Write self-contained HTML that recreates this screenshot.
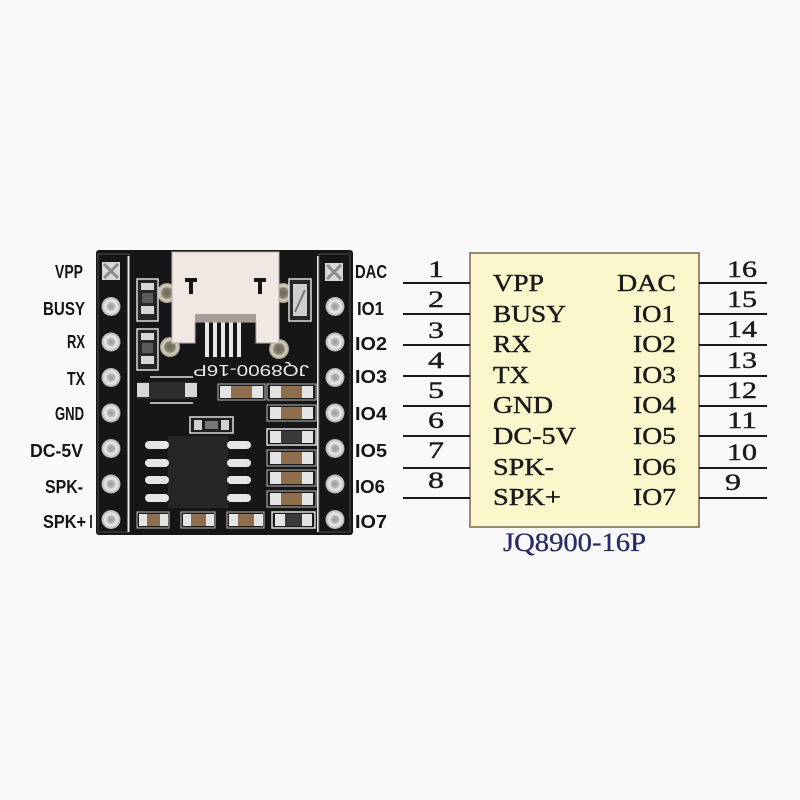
<!DOCTYPE html>
<html><head><meta charset="utf-8"><style>
html,body{margin:0;padding:0;background:#f9f9f9;}
svg{display:block}
</style></head><body>
<svg width="800" height="800" viewBox="0 0 800 800" xmlns="http://www.w3.org/2000/svg">
<defs>
<radialGradient id="pin" cx="50%" cy="50%" r="50%">
<stop offset="0%" stop-color="#9a9a9a"/>
<stop offset="35%" stop-color="#b4b4b4"/>
<stop offset="60%" stop-color="#ececec"/>
<stop offset="100%" stop-color="#b0b0b0"/>
</radialGradient>
<radialGradient id="mpad" cx="50%" cy="50%" r="50%">
<stop offset="0%" stop-color="#6a6458"/>
<stop offset="50%" stop-color="#8a8270"/>
<stop offset="70%" stop-color="#d8d0c2"/>
<stop offset="100%" stop-color="#a8a090"/>
</radialGradient>
</defs>
<rect width="800" height="800" fill="#f9f9f9"/>

<!-- ============ PCB ============ -->
<rect x="96" y="250" width="257" height="285" rx="3" fill="#161616"/>
<rect x="98" y="254" width="31" height="278" fill="none" stroke="#4a4a4a" stroke-width="1"/>
<line x1="128.5" y1="256" x2="128.5" y2="532" stroke="#e6e6e6" stroke-width="2"/>
<line x1="318" y1="256" x2="318" y2="532" stroke="#e6e6e6" stroke-width="2"/>
<rect x="319" y="254" width="31" height="278" fill="none" stroke="#4a4a4a" stroke-width="1"/>

<!-- left pins -->
<rect x="102" y="262" width="18" height="18" fill="#d8d8d8"/>
<path d="M104 264 L118 278 M118 264 L104 278" stroke="#8a8a8a" stroke-width="3"/>
<circle cx="111" cy="306.5" r="9.5" fill="url(#pin)"/>
<circle cx="111" cy="342" r="9.5" fill="url(#pin)"/>
<circle cx="111" cy="377.5" r="9.5" fill="url(#pin)"/>
<circle cx="111" cy="413" r="9.5" fill="url(#pin)"/>
<circle cx="111" cy="448.5" r="9.5" fill="url(#pin)"/>
<circle cx="111" cy="484" r="9.5" fill="url(#pin)"/>
<circle cx="111" cy="519.5" r="9.5" fill="url(#pin)"/>
<!-- right pins -->
<rect x="325" y="263" width="18" height="18" fill="#d8d8d8"/>
<path d="M327 265 L341 279 M341 265 L327 279" stroke="#8a8a8a" stroke-width="3"/>
<circle cx="335" cy="306.5" r="9.5" fill="url(#pin)"/>
<circle cx="335" cy="342" r="9.5" fill="url(#pin)"/>
<circle cx="335" cy="377.5" r="9.5" fill="url(#pin)"/>
<circle cx="335" cy="413" r="9.5" fill="url(#pin)"/>
<circle cx="335" cy="448.5" r="9.5" fill="url(#pin)"/>
<circle cx="335" cy="484" r="9.5" fill="url(#pin)"/>
<circle cx="335" cy="519.5" r="9.5" fill="url(#pin)"/>

<!-- USB mounting pads -->
<circle cx="167" cy="293" r="10" fill="url(#mpad)"/>
<circle cx="283" cy="293" r="10" fill="url(#mpad)"/>
<circle cx="170" cy="347" r="10" fill="url(#mpad)"/>
<circle cx="279" cy="349" r="10" fill="url(#mpad)"/>

<!-- USB pins -->
<g fill="#e8e8e8">
<rect x="205" y="322" width="4" height="35"/>
<rect x="213" y="322" width="4" height="35"/>
<rect x="221" y="322" width="4" height="35"/>
<rect x="229" y="322" width="4" height="35"/>
<rect x="237" y="322" width="4" height="35"/>
</g>
<!-- USB connector -->
<path d="M172 252 L279 252 L279 343 L256 343 L256 322 L195 322 L195 343 L172 343 Z" fill="#f1e7e3" stroke="#b8b0ac" stroke-width="1"/>
<rect x="195" y="314" width="61" height="8" fill="#a79e98"/>
<path d="M185 278 h12 v4 h-4 v12 h-4 v-12 h-4 z" fill="#151515"/>
<path d="M254 278 h12 v4 h-4 v12 h-4 v-12 h-4 z" fill="#151515"/>

<!-- top-left resistors -->
<rect x="137" y="279" width="21" height="42" fill="#262626" stroke="#dcdcdc" stroke-width="1.5"/>
<rect x="141" y="283" width="13" height="7" fill="#d8d8d8"/>
<rect x="142" y="293" width="11" height="10" fill="#5a5a5a"/>
<rect x="141" y="306" width="13" height="8" fill="#d8d8d8"/>
<rect x="137" y="329" width="21" height="41" fill="#262626" stroke="#dcdcdc" stroke-width="1.5"/>
<rect x="141" y="333" width="13" height="7" fill="#d8d8d8"/>
<rect x="142" y="343" width="11" height="10" fill="#5a5a5a"/>
<rect x="141" y="356" width="13" height="8" fill="#d8d8d8"/>
<!-- LED -->
<rect x="289" y="279" width="22" height="42" fill="#262626" stroke="#dcdcdc" stroke-width="1.5"/>
<rect x="293" y="284" width="14" height="32" fill="#cfcfcf"/>
<path d="M295 312 L305 290" stroke="#777" stroke-width="2"/>

<!-- silkscreen text (upside down) -->
<text x="193" y="381" font-family="Liberation Sans, sans-serif" font-size="16" fill="#e8e8e8" textLength="116" lengthAdjust="spacingAndGlyphs" transform="rotate(180 251 373)">JQ8900-16P</text>
<line x1="150" y1="377" x2="193" y2="377" stroke="#e0e0e0" stroke-width="1.5"/>
<line x1="150" y1="403" x2="193" y2="403" stroke="#e0e0e0" stroke-width="1.5"/>
<!-- diode -->
<rect x="137" y="382" width="60" height="17" fill="#2c2c2c"/>
<rect x="137" y="383" width="12" height="14" fill="#d8d8d8"/>
<rect x="185" y="383" width="12" height="14" fill="#d8d8d8"/>

<!-- small component -->
<rect x="190" y="417" width="43" height="16" fill="#1e1e1e" stroke="#dcdcdc" stroke-width="1.5"/>
<rect x="194" y="420" width="8" height="10" fill="#d0d0d0"/>
<rect x="205" y="421" width="13" height="8" fill="#777"/>
<rect x="221" y="420" width="8" height="10" fill="#d0d0d0"/>

<!-- IC -->
<rect x="168" y="436" width="60" height="72" fill="#262626"/>
<g fill="#e6e6e6">
<rect x="145" y="441" width="24" height="8" rx="4"/>
<rect x="145" y="459" width="24" height="8" rx="4"/>
<rect x="145" y="476" width="24" height="8" rx="4"/>
<rect x="145" y="494" width="24" height="8" rx="4"/>
<rect x="227" y="441" width="24" height="8" rx="4"/>
<rect x="227" y="459" width="24" height="8" rx="4"/>
<rect x="227" y="476" width="24" height="8" rx="4"/>
<rect x="227" y="494" width="24" height="8" rx="4"/>
</g>

<!-- capacitors -->
<g>
<rect x="218" y="384" width="47" height="16" fill="#1a1a1a" stroke="#bbb" stroke-width="1"/>
<rect x="220" y="386" width="11" height="12" fill="#e4e4e4"/><rect x="231" y="386" width="21" height="12" fill="#8e6e4c"/><rect x="252" y="386" width="11" height="12" fill="#e4e4e4"/>

<rect x="267" y="384" width="49" height="16" fill="#1a1a1a" stroke="#bbb" stroke-width="1"/>
<rect x="270" y="386" width="11" height="12" fill="#e4e4e4"/><rect x="281" y="386" width="21" height="12" fill="#8e6e4c"/><rect x="302" y="386" width="11" height="12" fill="#e4e4e4"/>

<rect x="267" y="405" width="49" height="16" fill="#1a1a1a" stroke="#bbb" stroke-width="1"/>
<rect x="270" y="407" width="11" height="12" fill="#e4e4e4"/><rect x="281" y="407" width="21" height="12" fill="#8e6e4c"/><rect x="302" y="407" width="11" height="12" fill="#e4e4e4"/>

<rect x="267" y="429" width="49" height="16" fill="#1a1a1a" stroke="#ddd" stroke-width="1.5"/>
<rect x="270" y="431" width="11" height="12" fill="#e4e4e4"/><rect x="281" y="431" width="21" height="12" fill="#3a3a3a"/><rect x="302" y="431" width="11" height="12" fill="#e4e4e4"/>

<rect x="267" y="450" width="49" height="16" fill="#1a1a1a" stroke="#bbb" stroke-width="1"/>
<rect x="270" y="452" width="11" height="12" fill="#e4e4e4"/><rect x="281" y="452" width="21" height="12" fill="#8e6e4c"/><rect x="302" y="452" width="11" height="12" fill="#e4e4e4"/>

<rect x="267" y="470" width="49" height="16" fill="#1a1a1a" stroke="#bbb" stroke-width="1"/>
<rect x="270" y="472" width="11" height="12" fill="#e4e4e4"/><rect x="281" y="472" width="21" height="12" fill="#8e6e4c"/><rect x="302" y="472" width="11" height="12" fill="#e4e4e4"/>

<rect x="267" y="491" width="49" height="16" fill="#1a1a1a" stroke="#bbb" stroke-width="1"/>
<rect x="270" y="493" width="11" height="12" fill="#e4e4e4"/><rect x="281" y="493" width="21" height="12" fill="#8e6e4c"/><rect x="302" y="493" width="11" height="12" fill="#e4e4e4"/>

<rect x="137" y="512" width="32" height="16" fill="#1a1a1a" stroke="#bbb" stroke-width="1"/>
<rect x="139" y="514" width="8" height="12" fill="#e4e4e4"/><rect x="147" y="514" width="13" height="12" fill="#8e6e4c"/><rect x="160" y="514" width="8" height="12" fill="#e4e4e4"/>

<rect x="181" y="512" width="34" height="16" fill="#1a1a1a" stroke="#bbb" stroke-width="1"/>
<rect x="183" y="514" width="8" height="12" fill="#e4e4e4"/><rect x="191" y="514" width="15" height="12" fill="#8e6e4c"/><rect x="206" y="514" width="8" height="12" fill="#e4e4e4"/>

<rect x="227" y="512" width="37" height="16" fill="#1a1a1a" stroke="#bbb" stroke-width="1"/>
<rect x="229" y="514" width="9" height="12" fill="#e4e4e4"/><rect x="238" y="514" width="16" height="12" fill="#8e6e4c"/><rect x="254" y="514" width="9" height="12" fill="#e4e4e4"/>

<rect x="272" y="512" width="43" height="16" fill="#1a1a1a" stroke="#ddd" stroke-width="1.5"/>
<rect x="275" y="514" width="10" height="12" fill="#e4e4e4"/><rect x="285" y="514" width="17" height="12" fill="#3a3a3a"/><rect x="302" y="514" width="10" height="12" fill="#e4e4e4"/>
</g>

<!-- PCB labels -->
<g font-family="Liberation Sans, Arial, sans-serif" font-size="18" font-weight="bold" fill="#151515">
<text x="55" y="278" textLength="28" lengthAdjust="spacingAndGlyphs">VPP</text>
<text x="43" y="315" textLength="42" lengthAdjust="spacingAndGlyphs">BUSY</text>
<text x="67" y="348" textLength="18" lengthAdjust="spacingAndGlyphs">RX</text>
<text x="67" y="385" textLength="18" lengthAdjust="spacingAndGlyphs">TX</text>
<text x="55" y="420" textLength="29" lengthAdjust="spacingAndGlyphs">GND</text>
<text x="30" y="457" textLength="53" lengthAdjust="spacingAndGlyphs">DC-5V</text>
<text x="45" y="493" textLength="38" lengthAdjust="spacingAndGlyphs">SPK-</text>
<text x="43" y="528" textLength="43" lengthAdjust="spacingAndGlyphs">SPK+</text>
<text x="355" y="278" textLength="32" lengthAdjust="spacingAndGlyphs">DAC</text>
<text x="357" y="315" textLength="27" lengthAdjust="spacingAndGlyphs">IO1</text>
<text x="355" y="350" textLength="32" lengthAdjust="spacingAndGlyphs">IO2</text>
<text x="355" y="383" textLength="32" lengthAdjust="spacingAndGlyphs">IO3</text>
<text x="355" y="420" textLength="32" lengthAdjust="spacingAndGlyphs">IO4</text>
<text x="355" y="457" textLength="32" lengthAdjust="spacingAndGlyphs">IO5</text>
<text x="355" y="493" textLength="30" lengthAdjust="spacingAndGlyphs">IO6</text>
<text x="355" y="528" textLength="32" lengthAdjust="spacingAndGlyphs">IO7</text>
</g>
<rect x="90" y="515" width="2" height="13" fill="#333"/>

<!-- ============ SCHEMATIC ============ -->
<rect x="470" y="253" width="229" height="274" fill="#fcf6cd" stroke="#9b8b6e" stroke-width="2"/>
<g stroke="#1a1a1a" stroke-width="2">
<line x1="403" y1="283" x2="470" y2="283"/>
<line x1="403" y1="314" x2="470" y2="314"/>
<line x1="403" y1="345" x2="470" y2="345"/>
<line x1="403" y1="376" x2="470" y2="376"/>
<line x1="403" y1="406" x2="470" y2="406"/>
<line x1="403" y1="436" x2="470" y2="436"/>
<line x1="403" y1="468" x2="470" y2="468"/>
<line x1="403" y1="498" x2="470" y2="498"/>
<line x1="699" y1="283" x2="767" y2="283"/>
<line x1="699" y1="314" x2="767" y2="314"/>
<line x1="699" y1="345" x2="767" y2="345"/>
<line x1="699" y1="376" x2="767" y2="376"/>
<line x1="699" y1="406" x2="767" y2="406"/>
<line x1="699" y1="436" x2="767" y2="436"/>
<line x1="699" y1="468" x2="767" y2="468"/>
<line x1="699" y1="498" x2="767" y2="498"/>
</g>

<g font-family="Liberation Serif, 'Times New Roman', serif" font-size="23" fill="#1a1a1a" stroke="#1a1a1a" stroke-width="0.4">
<text x="428" y="277" textLength="16" lengthAdjust="spacingAndGlyphs">1</text>
<text x="428" y="307" textLength="16" lengthAdjust="spacingAndGlyphs">2</text>
<text x="428" y="338" textLength="16" lengthAdjust="spacingAndGlyphs">3</text>
<text x="428" y="368" textLength="16" lengthAdjust="spacingAndGlyphs">4</text>
<text x="428" y="398" textLength="16" lengthAdjust="spacingAndGlyphs">5</text>
<text x="428" y="428" textLength="16" lengthAdjust="spacingAndGlyphs">6</text>
<text x="428" y="458" textLength="16" lengthAdjust="spacingAndGlyphs">7</text>
<text x="428" y="488" textLength="16" lengthAdjust="spacingAndGlyphs">8</text>
<text x="727" y="277" textLength="30" lengthAdjust="spacingAndGlyphs">16</text>
<text x="727" y="307" textLength="30" lengthAdjust="spacingAndGlyphs">15</text>
<text x="727" y="337" textLength="30" lengthAdjust="spacingAndGlyphs">14</text>
<text x="727" y="368" textLength="30" lengthAdjust="spacingAndGlyphs">13</text>
<text x="727" y="398" textLength="30" lengthAdjust="spacingAndGlyphs">12</text>
<text x="727" y="428" textLength="30" lengthAdjust="spacingAndGlyphs">11</text>
<text x="727" y="460" textLength="30" lengthAdjust="spacingAndGlyphs">10</text>
<text x="725" y="490" textLength="16" lengthAdjust="spacingAndGlyphs">9</text>
</g>

<g font-family="Liberation Serif, 'Times New Roman', serif" font-size="24" fill="#1a1a1a" stroke="#1a1a1a" stroke-width="0.4">
<text x="493" y="291" textLength="51" lengthAdjust="spacingAndGlyphs">VPP</text>
<text x="493" y="322" textLength="73" lengthAdjust="spacingAndGlyphs">BUSY</text>
<text x="493" y="352" textLength="38" lengthAdjust="spacingAndGlyphs">RX</text>
<text x="493" y="383" textLength="36" lengthAdjust="spacingAndGlyphs">TX</text>
<text x="493" y="413" textLength="60" lengthAdjust="spacingAndGlyphs">GND</text>
<text x="493" y="444" textLength="83" lengthAdjust="spacingAndGlyphs">DC-5V</text>
<text x="493" y="475" textLength="61" lengthAdjust="spacingAndGlyphs">SPK-</text>
<text x="493" y="505" textLength="68" lengthAdjust="spacingAndGlyphs">SPK+</text>
<text x="617" y="291" textLength="59" lengthAdjust="spacingAndGlyphs">DAC</text>
<text x="633" y="322" textLength="42" lengthAdjust="spacingAndGlyphs">IO1</text>
<text x="633" y="352" textLength="43" lengthAdjust="spacingAndGlyphs">IO2</text>
<text x="633" y="383" textLength="43" lengthAdjust="spacingAndGlyphs">IO3</text>
<text x="633" y="413" textLength="43" lengthAdjust="spacingAndGlyphs">IO4</text>
<text x="633" y="444" textLength="43" lengthAdjust="spacingAndGlyphs">IO5</text>
<text x="633" y="475" textLength="43" lengthAdjust="spacingAndGlyphs">IO6</text>
<text x="633" y="505" textLength="43" lengthAdjust="spacingAndGlyphs">IO7</text>
</g>

<text x="503" y="551" font-family="Liberation Serif, 'Times New Roman', serif" font-size="26" fill="#2a2a66" stroke="#2a2a66" stroke-width="0.3" textLength="143" lengthAdjust="spacingAndGlyphs">JQ8900-16P</text>
</svg>
</body></html>
